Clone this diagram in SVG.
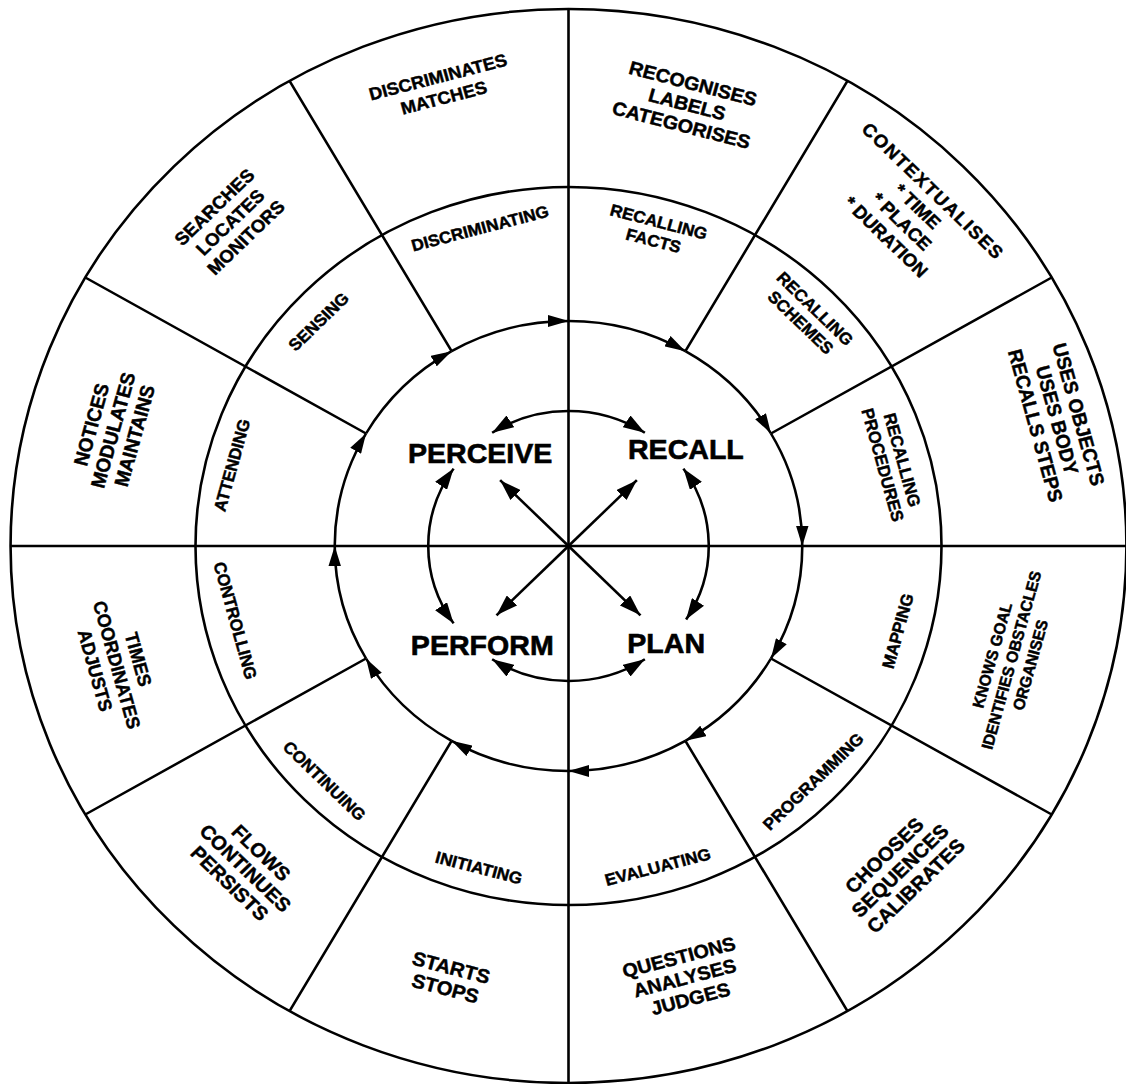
<svg xmlns="http://www.w3.org/2000/svg" width="1126" height="1084" viewBox="0 0 1126 1084">
<style>
.ln{fill:none;stroke:#000;stroke-width:2.5}
.t{font-family:"Liberation Sans",Arial,Helvetica,sans-serif;font-weight:bold;fill:#000;stroke:#000;stroke-width:0.45;text-anchor:middle}
.m{font-size:16.5px}
.big{font-size:27.5px;stroke-width:0.6}
</style>
<defs>
<marker id="ah" viewBox="0 0 20 12" refX="20" refY="6" markerWidth="20" markerHeight="12" markerUnits="userSpaceOnUse" orient="auto"><path d="M0,0 L20,6 L0,12 z" fill="#000"/></marker>
<marker id="ah2" viewBox="0 0 21 14" refX="21" refY="7" markerWidth="21" markerHeight="14" markerUnits="userSpaceOnUse" orient="auto-start-reverse"><path d="M0,0 L21,7 L0,14 z" fill="#000"/></marker>
</defs>
<rect width="1126" height="1084" fill="#fff"/>
<g transform="translate(568.5,546) scale(1.039,1)">
<g id="wheel">
<circle class="ln" r="537"/>
<circle class="ln" r="359"/>
<path class="ln" d="M-537,0 H537 M0,-537 V537"/>
<path class="ln" d="M194.86,-112.5 L465.06,-268.5 M112.5,-194.86 L268.5,-465.06 M-112.5,-194.86 L-268.5,-465.06 M-194.86,-112.5 L-465.06,-268.5 M-194.86,112.5 L-465.06,268.5 M-112.5,194.86 L-268.5,465.06 M112.5,194.86 L268.5,465.06 M194.86,112.5 L465.06,268.5"/>
</g>
<g id="connectors">
<g id="cycle" class="ln" marker-end="url(#ah)">
<path d="M-112.5,-194.86 A225,225 0 0 1 0,-225"/>
<path d="M0,-225 A225,225 0 0 1 112.5,-194.86"/>
<path d="M112.5,-194.86 A225,225 0 0 1 194.86,-112.5"/>
<path d="M194.86,-112.5 A225,225 0 0 1 225,0"/>
<path d="M225,0 A225,225 0 0 1 194.86,112.5"/>
<path d="M194.86,112.5 A225,225 0 0 1 112.5,194.86"/>
<path d="M112.5,194.86 A225,225 0 0 1 0,225"/>
<path d="M0,225 A225,225 0 0 1 -112.5,194.86"/>
<path d="M-112.5,194.86 A225,225 0 0 1 -194.86,112.5"/>
<path d="M-194.86,112.5 A225,225 0 0 1 -225,0"/>
<path d="M-225,0 A225,225 0 0 1 -194.86,-112.5"/>
<path d="M-194.86,-112.5 A225,225 0 0 1 -112.5,-194.86"/>
</g>
<g id="links" class="ln" marker-start="url(#ah2)" marker-end="url(#ah2)">
<path d="M-73.5,-113.2 A135,135 0 0 1 73.5,-113.2"/>
<path d="M110.6,-77.4 A135,135 0 0 1 113.2,73.5"/>
<path d="M73.5,113.2 A135,135 0 0 1 -73.5,113.2"/>
<path d="M-110.6,77.4 A135,135 0 0 1 -110.6,-77.4"/>
</g>
<g id="spokes" class="ln" marker-end="url(#ah2)">
<path d="M0,0 L-65.8,-65.8"/>
<path d="M0,0 L65.8,-65.8"/>
<path d="M0,0 L-69.3,69.3"/>
<path d="M0,0 L69.3,69.3"/>
</g>
</g>
<g id="core" class="t big">
<text id="perceive" x="-85" y="-83">PERCEIVE</text>
<text id="recall" x="113" y="-87">RECALL</text>
<text id="perform" x="-83" y="109">PERFORM</text>
<text id="plan" x="94" y="107">PLAN</text>
</g>
<g id="middle-ring" class="t m">
<g id="discriminating" transform="translate(-85.2,-317.8) rotate(-15)"><text y="5.9">DISCRIMINATING</text></g>
<g id="recalling-facts" transform="translate(84.4,-314.9) rotate(15)"><text><tspan x="0" y="-3.85">RECALLING</tspan><tspan x="0" y="15.65">FACTS</tspan></text></g>
<g id="recalling-schemes" transform="translate(230.5,-230.5) rotate(45)"><text><tspan x="0" y="-3.85">RECALLING</tspan><tspan x="0" y="15.65">SCHEMES</tspan></text></g>
<g id="recalling-procedures" transform="translate(312,-83.6) rotate(75)"><text><tspan x="0" y="-3.85">RECALLING</tspan><tspan x="0" y="15.65">PROCEDURES</tspan></text></g>
<g id="mapping" transform="translate(316.8,84.9) rotate(-75)"><text y="5.9">MAPPING</text></g>
<g id="programming" transform="translate(235.5,235.5) rotate(-45)"><text y="5.9">PROGRAMMING</text></g>
<g id="evaluating" transform="translate(85.9,320.7) rotate(-15)"><text y="5.9">EVALUATING</text></g>
<g id="initiating" transform="translate(-86.2,321.7) rotate(15)"><text y="5.9">INITIATING</text></g>
<g id="continuing" transform="translate(-234.8,234.8) rotate(45)"><text y="5.9">CONTINUING</text></g>
<g id="controlling" transform="translate(-320.5,74.5) rotate(75)"><text y="5.9">CONTROLLING</text></g>
<g id="attending" transform="translate(-324.1,-80.8) rotate(-75)"><text y="5.9">ATTENDING</text></g>
<g id="sensing" transform="translate(-240.6,-224.4) rotate(-45)"><text y="5.9">SENSING</text></g>
</g>
<g id="outer-ring" class="t">
<g id="discriminates" transform="translate(-122.9,-458.8) rotate(-15)" font-size="17.5"><text><tspan x="0" y="-4.5">DISCRIMINATES</tspan><tspan x="0" y="17">MATCHES</tspan></text></g>
<g id="recognises" transform="translate(114.3,-441.9) rotate(15)" font-size="19"><text><tspan x="0" y="-14.7">RECOGNISES</tspan><tspan x="0" y="6.8">LABELS</tspan><tspan x="0" y="28.3">CATEGORISES</tspan></text></g>
<g id="contextualises" transform="translate(328.3,-332.1) rotate(45)" font-size="18"><text><tspan x="0" y="-25.8" letter-spacing="1.5">CONTEXTUALISES</tspan><tspan x="0" y="-4.3">* TIME</tspan><tspan x="0" y="17.2">* PLACE</tspan><tspan x="0" y="38.7">* DURATION</tspan></text></g>
<g id="uses-objects" transform="translate(470.4,-126) rotate(75)" font-size="19"><text><tspan x="0" y="-14.7">USES OBJECTS</tspan><tspan x="0" y="6.8">USES BODY</tspan><tspan x="0" y="28.3">RECALLS STEPS</tspan></text></g>
<g id="knows-goal" transform="translate(426,114.1) rotate(-75)" font-size="15.5"><text><tspan x="0" y="-13.4">KNOWS GOAL</tspan><tspan x="0" y="5.6">IDENTIFIES OBSTACLES</tspan><tspan x="0" y="24.6">ORGANISES</tspan></text></g>
<g id="chooses" transform="translate(318.9,324.5) rotate(-45)" font-size="19.5"><text><tspan x="0" y="-14.5">CHOOSES</tspan><tspan x="0" y="7">SEQUENCES</tspan><tspan x="0" y="28.5">CALIBRATES</tspan></text></g>
<g id="questions" transform="translate(111.7,431.8) rotate(-15)" font-size="19"><text><tspan x="0" y="-14.7">QUESTIONS</tspan><tspan x="0" y="6.8">ANALYSES</tspan><tspan x="0" y="28.3">JUDGES</tspan></text></g>
<g id="starts" transform="translate(-115.7,431.8) rotate(15)" font-size="19.5"><text><tspan x="0" y="-3.7">STARTS</tspan><tspan x="0" y="17.8">STOPS</tspan></text></g>
<g id="flows" transform="translate(-310.9,321.9) rotate(45)" font-size="19.5"><text><tspan x="0" y="-14.5">FLOWS</tspan><tspan x="0" y="7">CONTINUES</tspan><tspan x="0" y="28.5">PERSISTS</tspan></text></g>
<g id="times" transform="translate(-434.6,118.9) rotate(75)" font-size="18"><text><tspan x="0" y="-15">TIMES</tspan><tspan x="0" y="6.5">COORDINATES</tspan><tspan x="0" y="28">ADJUSTS</tspan></text></g>
<g id="notices" transform="translate(-438.5,-115.9) rotate(-75)" font-size="19"><text><tspan x="0" y="-14.7">NOTICES</tspan><tspan x="0" y="6.8">MODULATES</tspan><tspan x="0" y="28.3">MAINTAINS</tspan></text></g>
<g id="searches" transform="translate(-325.8,-323.9) rotate(-45)" font-size="18"><text><tspan x="0" y="-15">SEARCHES</tspan><tspan x="0" y="6.5">LOCATES</tspan><tspan x="0" y="28">MONITORS</tspan></text></g>
</g>
</g>
</svg>
